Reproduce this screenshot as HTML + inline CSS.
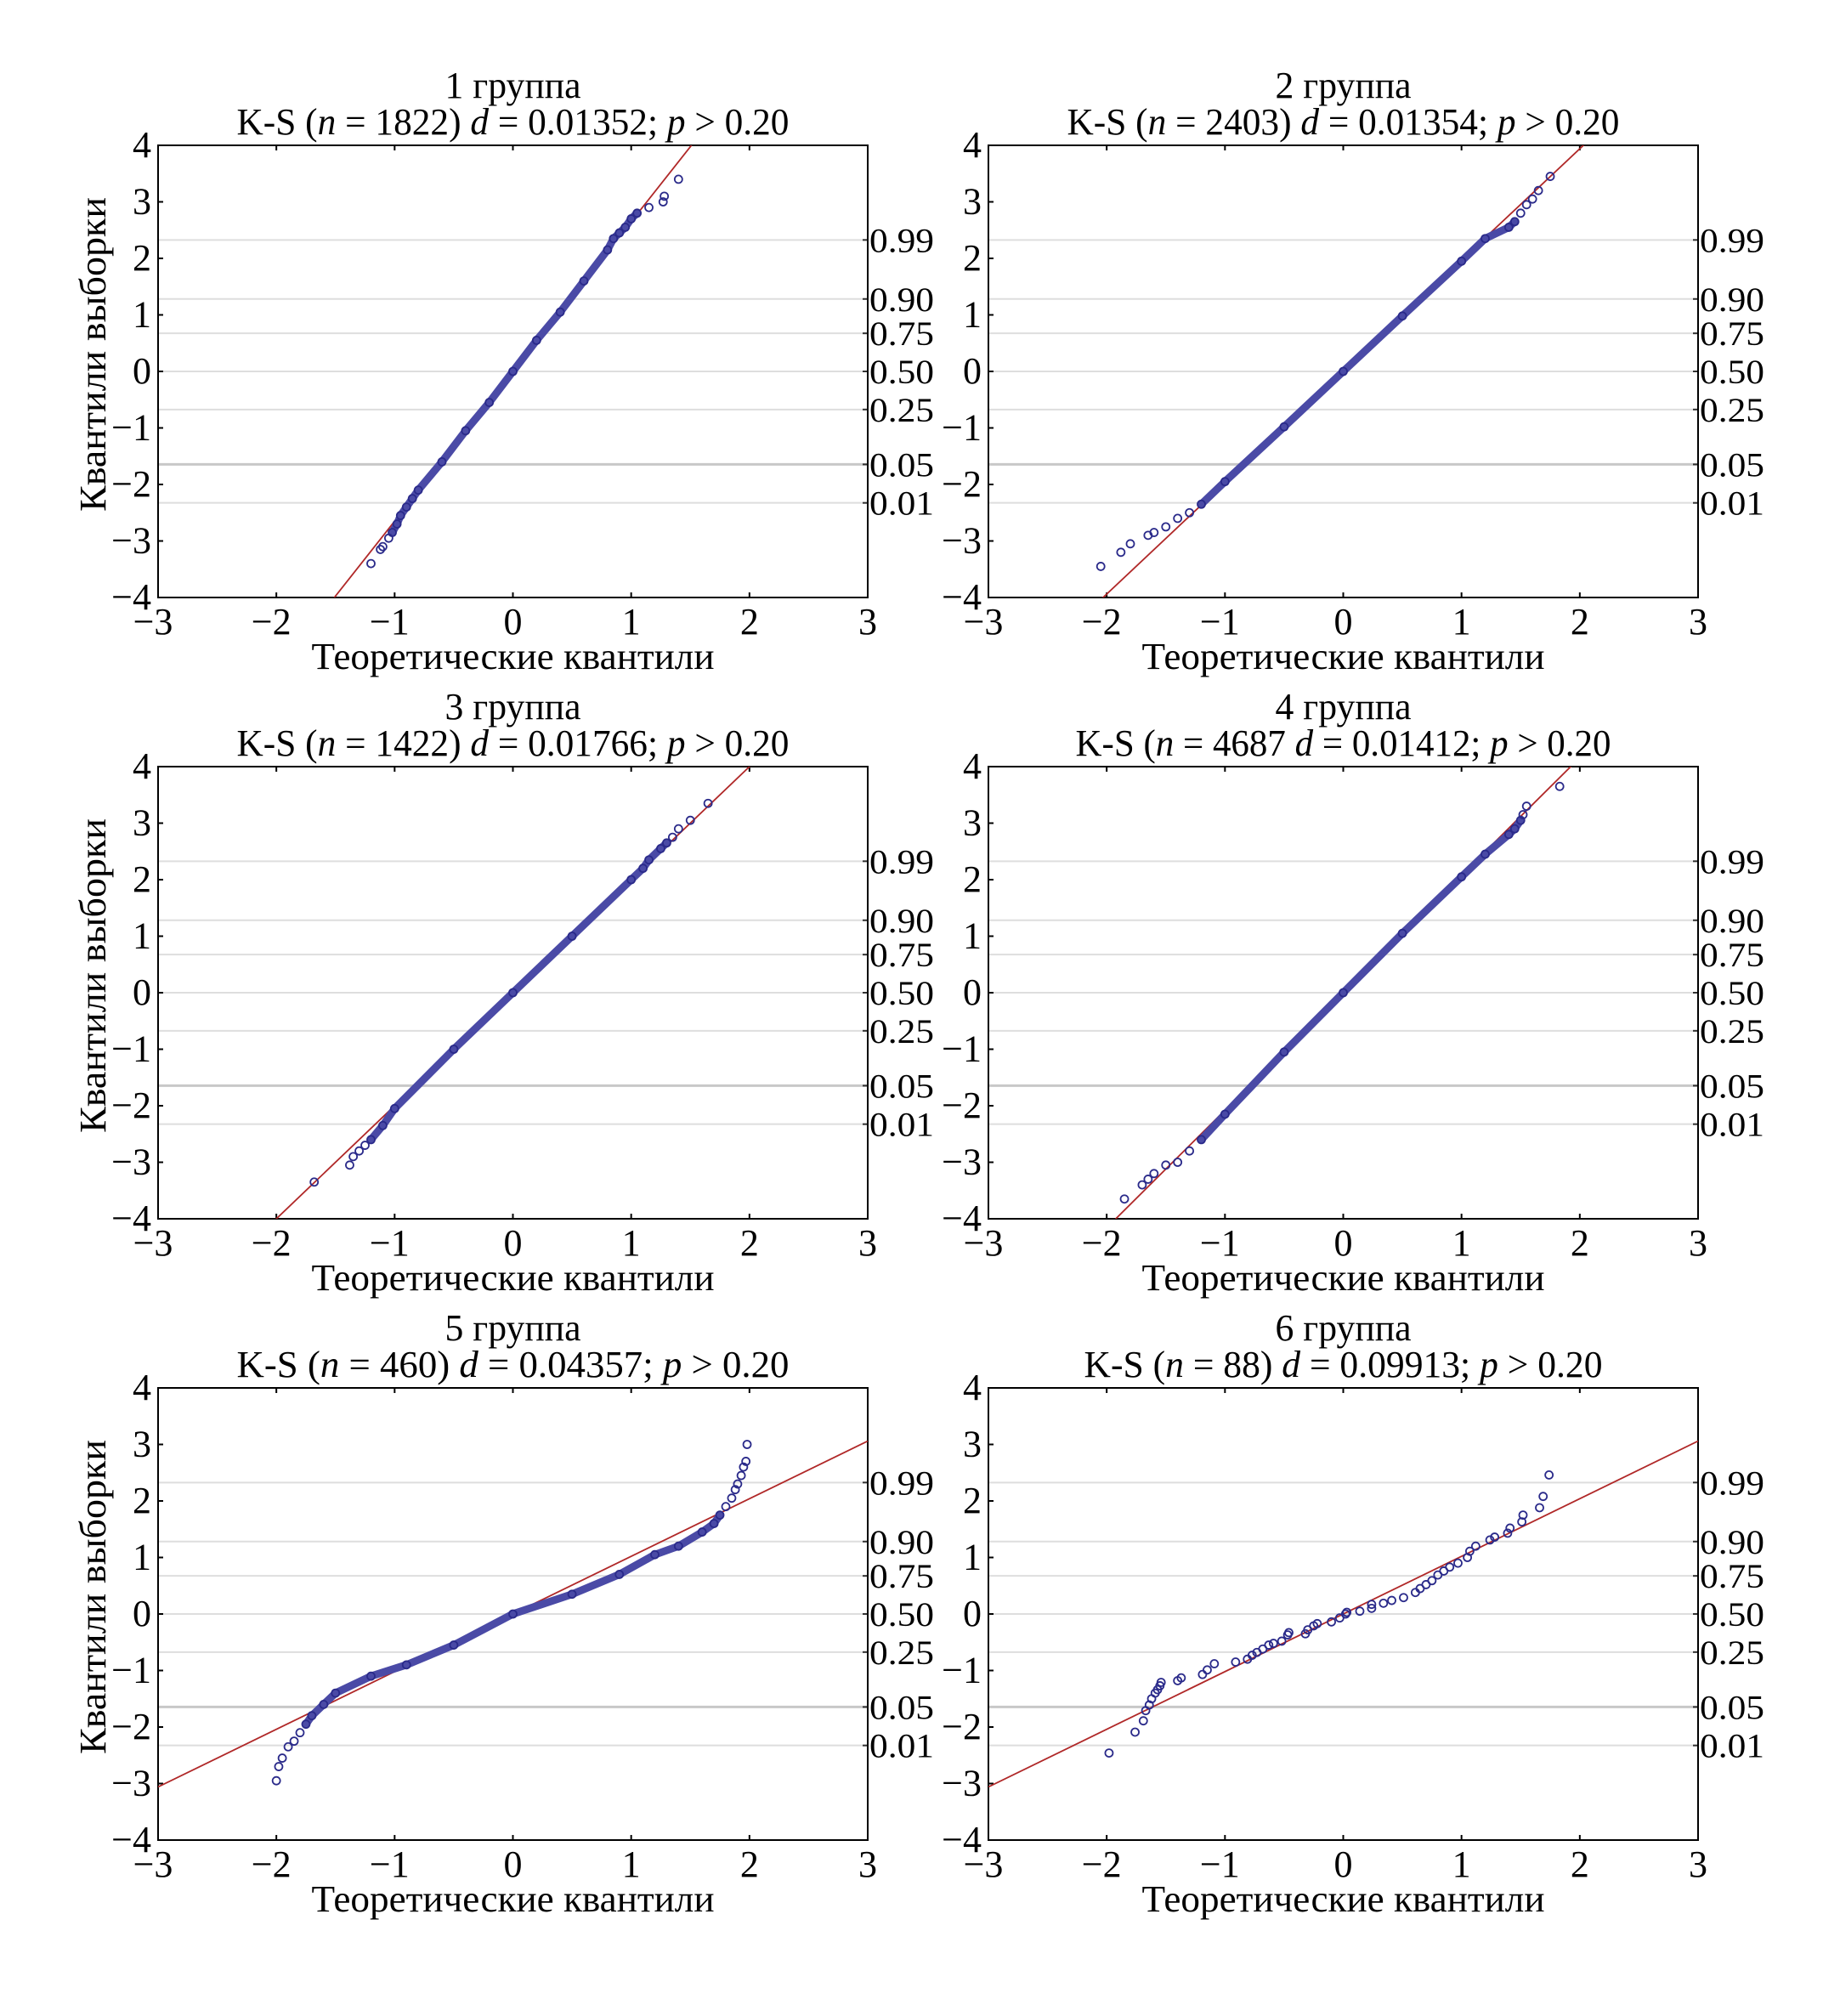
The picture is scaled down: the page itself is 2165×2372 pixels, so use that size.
<!DOCTYPE html>
<html><head><meta charset="utf-8"><style>
html,body{margin:0;padding:0;background:#fff}
svg text{font-family:"Liberation Serif","DejaVu Serif","Times New Roman",serif;fill:#000}
</style></head><body>
<svg id="chart" xmlns="http://www.w3.org/2000/svg" width="2165" height="2367" viewBox="0 0 2165 2367" font-family="Liberation Serif, DejaVu Serif, serif"></svg>
<script>
// ---- data ----
const titles1 = ["1 группа","2 группа","3 группа","4 группа","5 группа","6 группа"];
const ksN = ["1822","2403","1422","4687","460","88"];
const ksD = ["0.01352","0.01354","0.01766","0.01412","0.04357","0.09913"];
const xTicks = [-3,-2,-1,0,1,2,3];
const yTicks = [-4,-3,-2,-1,0,1,2,3,4];
const probLabels = ["0.99","0.90","0.75","0.50","0.25","0.05","0.01"];
const probZ = [2.326,1.2816,0.674,0,-0.674,-1.645,-2.326];
const lineSlope = [2.65,1.97,2.0,2.08,1.02,1.02];
const lineIntercept = [0,0,0,0,0,0];
// theoretical (x) and sample (y) quantiles per panel
const p1x = [-1.2,-1.12,-1.1,-1.05,-1.02,-0.98,-0.95,-0.9,-0.85,-0.8,-0.6,-0.4,-0.2,0,0.2,0.4,0.6,0.8,0.85,0.9,0.95,1.0,1.05,1.15,1.27,1.28,1.4];
const p1y = [-3.4,-3.15,-3.1,-2.95,-2.85,-2.7,-2.55,-2.4,-2.25,-2.1,-1.6,-1.05,-0.55,0,0.55,1.05,1.6,2.15,2.35,2.45,2.55,2.7,2.8,2.9,3.0,3.1,3.4];
const p2x = [-2.05,-1.88,-1.8,-1.65,-1.6,-1.5,-1.4,-1.3,-1.2,-1.0,-0.5,0,0.5,1.0,1.2,1.4,1.45,1.5,1.55,1.6,1.65,1.75];
const p2y = [-3.45,-3.2,-3.05,-2.9,-2.85,-2.75,-2.6,-2.5,-2.35,-1.95,-0.98,0,0.98,1.95,2.35,2.55,2.65,2.8,2.95,3.05,3.2,3.45];
const p3x = [-1.68,-1.38,-1.35,-1.3,-1.25,-1.2,-1.1,-1.0,-0.5,0,0.5,1.0,1.1,1.15,1.25,1.3,1.35,1.4,1.5,1.65];
const p3y = [-3.35,-3.05,-2.9,-2.8,-2.7,-2.6,-2.35,-2.05,-1.0,0,1.0,2.0,2.2,2.35,2.55,2.65,2.75,2.9,3.05,3.35];
const p4x = [-1.85,-1.7,-1.65,-1.6,-1.5,-1.4,-1.3,-1.2,-1.0,-0.5,0,0.5,1.0,1.2,1.4,1.45,1.5,1.52,1.55,1.83];
const p4y = [-3.65,-3.4,-3.3,-3.2,-3.05,-3.0,-2.8,-2.6,-2.15,-1.05,0,1.05,2.05,2.45,2.8,2.9,3.05,3.15,3.3,3.65];
const p5x = [-2.0,-1.98,-1.95,-1.9,-1.85,-1.8,-1.75,-1.7,-1.6,-1.5,-1.2,-0.9,-0.5,0,0.5,0.9,1.2,1.4,1.6,1.7,1.75,1.8,1.85,1.88,1.9,1.93,1.95,1.97,1.98];
const p5y = [-2.95,-2.7,-2.55,-2.35,-2.25,-2.1,-1.95,-1.8,-1.6,-1.4,-1.1,-0.9,-0.55,0,0.35,0.7,1.05,1.2,1.45,1.6,1.75,1.9,2.05,2.2,2.3,2.45,2.6,2.7,3.0];
const p6x = [-1.98,-1.76,-1.69,-1.67,-1.64,-1.62,-1.59,-1.57,-1.55,-1.54,-1.40,-1.37,-1.19,-1.15,-1.09,-0.91,-0.81,-0.77,-0.73,-0.68,-0.63,-0.59,-0.52,-0.47,-0.46,-0.32,-0.30,-0.25,-0.22,-0.10,-0.03,0.02,0.03,0.14,0.24,0.24,0.34,0.41,0.51,0.61,0.65,0.70,0.75,0.80,0.85,0.90,0.97,1.05,1.07,1.12,1.24,1.28,1.39,1.41,1.51,1.52,1.66,1.69,1.74];
const p6y = [-2.46,-2.09,-1.89,-1.71,-1.61,-1.50,-1.40,-1.34,-1.27,-1.21,-1.18,-1.13,-1.07,-0.99,-0.88,-0.85,-0.80,-0.73,-0.68,-0.62,-0.55,-0.52,-0.48,-0.37,-0.33,-0.35,-0.28,-0.21,-0.17,-0.14,-0.07,0,0.03,0.05,0.10,0.17,0.19,0.24,0.29,0.38,0.45,0.52,0.59,0.69,0.76,0.83,0.90,1.00,1.11,1.20,1.31,1.36,1.43,1.52,1.63,1.75,1.88,2.08,2.46];
const seriesX = [p1x,p2x,p3x,p4x,p5x,p6x];
const seriesY = [p1y,p2y,p3y,p4y,p5y,p6y];
const bandFrom = [4,8,5,7,6,-1];
const bandTo = [22,16,15,16,20,-1];

// ---- layout ----
const NS="http://www.w3.org/2000/svg";
const svg=document.getElementById('chart');
const colL=[186,1163], rowT=[171,902,1633], PW=835, PH=532;
function mk(tag,attrs,parent){const e=document.createElementNS(NS,tag);for(const k in attrs)e.setAttribute(k,attrs[k]);(parent||svg).appendChild(e);return e;}

for(let p=0;p<6;p++){
  const L=colL[p%2], T=rowT[Math.floor(p/2)], R=L+PW, B=T+PH, cx=L+PW/2;
  const sx=v=>L+(v+3)/6*PW, sy=v=>T+(4-v)/8*PH;
  const g=mk('g',{});
  
  
  const t1=mk('text',{x:cx,y:T-56,'text-anchor':'middle','font-size':44,textLength:160,lengthAdjust:'spacingAndGlyphs'},g);
  t1.textContent=titles1[p];
  
  
  const t2=mk('text',{x:cx,y:T-13,'text-anchor':'middle','font-size':44,textLength:(p==3?630:(p==5?610:650)),lengthAdjust:'spacingAndGlyphs'},g);
  t2.innerHTML='K-S (<tspan font-style="italic">n</tspan> = '+ksN[p]+(p==3?'':')')+' <tspan font-style="italic">d</tspan> = '+ksD[p]+'; <tspan font-style="italic">p</tspan> &gt; 0.20';
  
  
  probZ.forEach((z,i)=>{
    const gl=mk('line',{x1:L,x2:R,y1:sy(z),y2:sy(z),stroke:(i==5?'#c8c8c8':'#dedede'),'stroke-width':(i==5?3:2)},g);
    
    
    mk('line',{x1:R-6,x2:R,y1:sy(z),y2:sy(z),stroke:'#333','stroke-width':2},g);
    const pl=mk('text',{x:R+2,y:sy(z)+14,'font-size':40,textLength:76,lengthAdjust:'spacingAndGlyphs'},g);
    pl.textContent=probLabels[i];
    
    
  });
  const fr=mk('rect',{x:L,y:T,width:PW,height:PH,fill:'none',stroke:'#000','stroke-width':2},g);
  
  
  xTicks.forEach(v=>{
    mk('line',{x1:sx(v),x2:sx(v),y1:B,y2:B-6,stroke:'#000','stroke-width':2},g);
    mk('line',{x1:sx(v),x2:sx(v),y1:T,y2:T+6,stroke:'#000','stroke-width':2},g);
    const tl=mk('text',{x:sx(v)-(v<0?6:0),y:B+43,'text-anchor':'middle','font-size':44},g);
    tl.textContent=(v<0?'\u2212':'')+Math.abs(v);
    
    
  });
  yTicks.forEach(v=>{
    mk('line',{x1:L,x2:L+6,y1:sy(v),y2:sy(v),stroke:'#000','stroke-width':2},g);
    const tl=mk('text',{x:L-8,y:sy(v)+14,'text-anchor':'end','font-size':44},g);
    tl.textContent=(v<0?'\u2212':'')+Math.abs(v);
    
    
  });
  const xl=mk('text',{x:cx,y:B+84,'text-anchor':'middle','font-size':44,textLength:474,lengthAdjust:'spacingAndGlyphs'},g);
  xl.textContent='Теоретические квантили';
  
  
  if(p%2==0){
    const yl=mk('text',{x:0,y:0,'text-anchor':'middle','font-size':44,textLength:370,lengthAdjust:'spacingAndGlyphs',transform:'translate(124,'+(T+PH/2-20)+') rotate(-90)'},g);
    yl.textContent='Квантили выборки';
    
    
  }
  const cp=mk('clipPath',{id:'c'+p},g); mk('rect',{x:L,y:T,width:PW,height:PH},cp);
  const pg=mk('g',{'clip-path':'url(#c'+p+')'},g);
  const m=lineSlope[p], b=lineIntercept[p];
  const rl=mk('line',{x1:sx(-3),y1:sy(m*-3+b),x2:sx(3),y2:sy(m*3+b),stroke:'#b02828','stroke-width':1.8},pg);
  
  
  const X=seriesX[p], Y=seriesY[p];
  if(bandFrom[p]>=0){
    let pts=[];for(let i=bandFrom[p];i<=bandTo[p];i++)pts.push(sx(X[i])+','+sy(Y[i]));
    const bd=mk('polyline',{points:pts.join(' '),fill:'none',stroke:'#4a4aa6','stroke-width':9,'stroke-linecap':'round','stroke-linejoin':'round'},pg);
    
    
  }
  for(let i=0;i<X.length;i++){
    const c=mk('circle',{cx:sx(X[i]),cy:sy(Y[i]),r:4.5,fill:'none',stroke:'#2a2a8a','stroke-width':1.8},pg);
    
    
  }
}
</script>
</body></html>
